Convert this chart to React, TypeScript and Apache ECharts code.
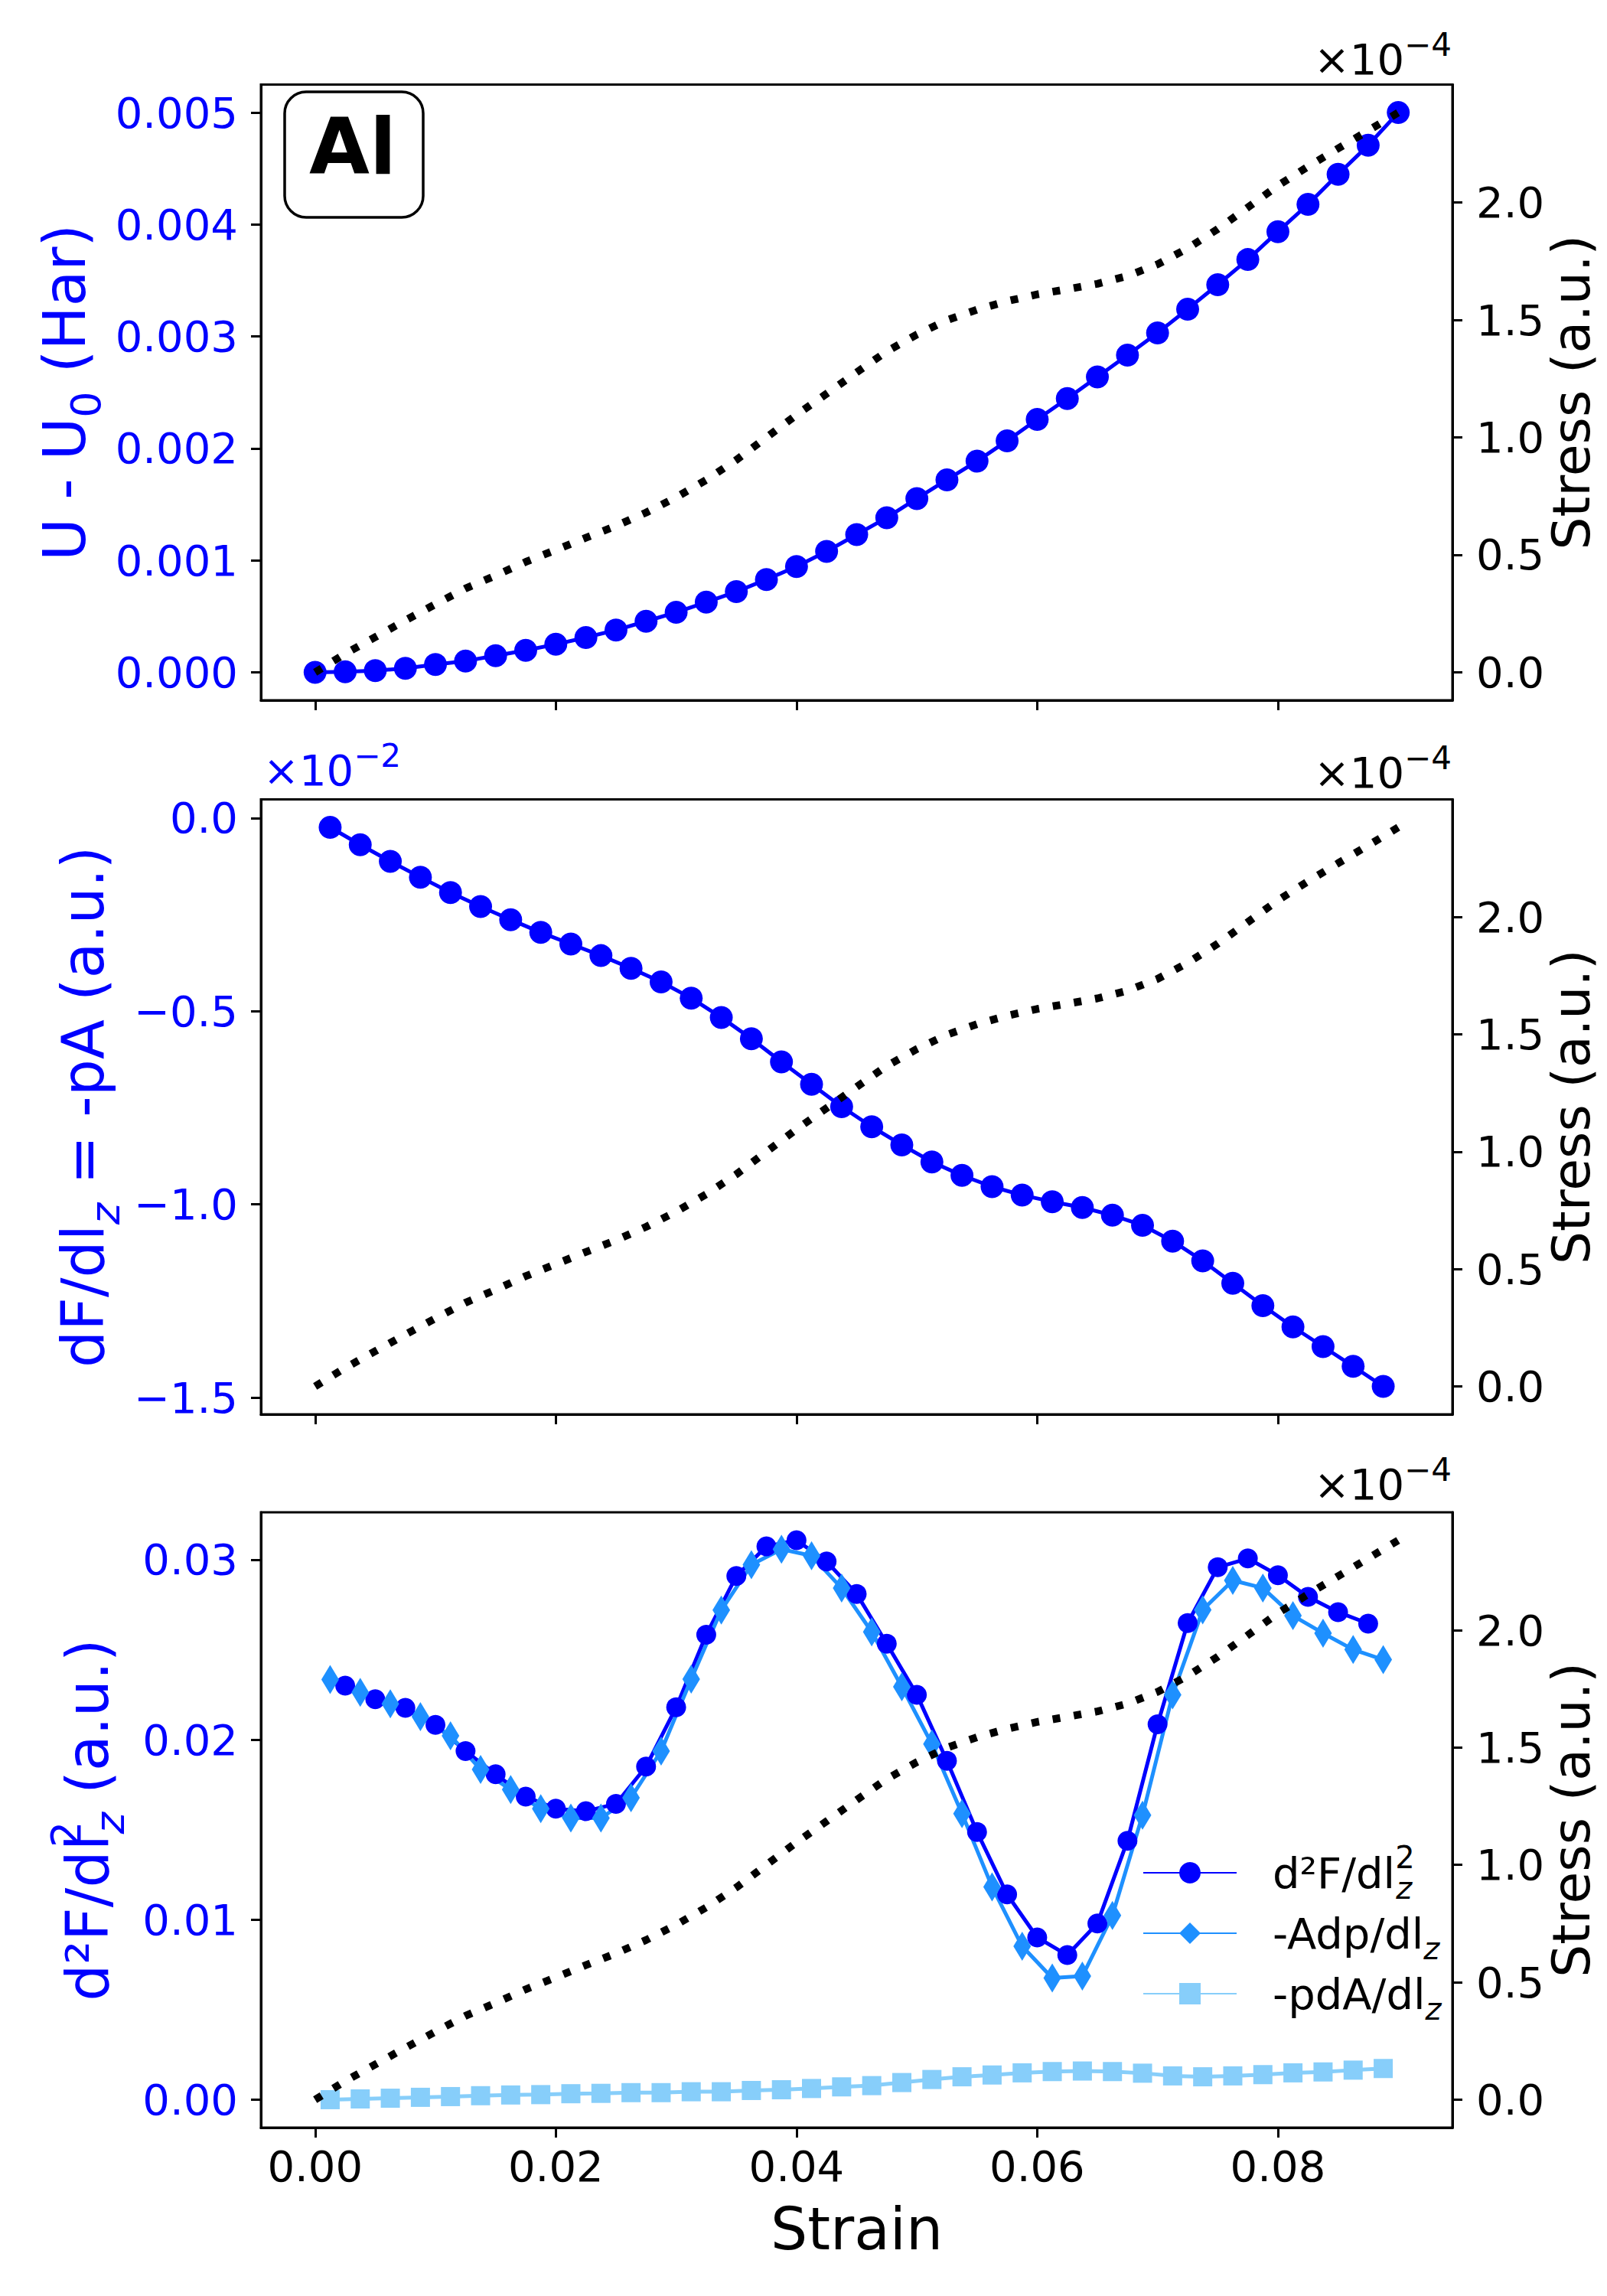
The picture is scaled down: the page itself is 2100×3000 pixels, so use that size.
import React, { useEffect, useRef } from "react";
import * as echarts from "echarts";

// ---------- data ----------
const strainNode = [0, 0.0025, 0.005, 0.0075, 0.01, 0.0125, 0.015, 0.0175, 0.02, 0.0225, 0.025, 0.0275, 0.03, 0.0325, 0.035, 0.0375, 0.04, 0.0425, 0.045, 0.0475, 0.05, 0.0525, 0.055, 0.0575, 0.06, 0.0625, 0.065, 0.0675, 0.07, 0.0725, 0.075, 0.0775, 0.08, 0.0825, 0.085, 0.0875, 0.09];
const strainMid = [0.00125, 0.00375, 0.00625, 0.00875, 0.01125, 0.01375, 0.01625, 0.01875, 0.02125, 0.02375, 0.02625, 0.02875, 0.03125, 0.03375, 0.03625, 0.03875, 0.04125, 0.04375, 0.04625, 0.04875, 0.05125, 0.05375, 0.05625, 0.05875, 0.06125, 0.06375, 0.06625, 0.06875, 0.07125, 0.07375, 0.07625, 0.07875, 0.08125, 0.08375, 0.08625, 0.08875];
const strainInner = strainNode.slice(1, 36);

// Stress (x1e-4, a.u.)
const stress = [0, 0.079, 0.150, 0.221, 0.290, 0.357, 0.412, 0.470, 0.521, 0.573, 0.623, 0.680, 0.745, 0.819, 0.904, 1.000, 1.096, 1.186, 1.277, 1.366, 1.438, 1.499, 1.544, 1.580, 1.609, 1.631, 1.654, 1.687, 1.737, 1.805, 1.887, 1.979, 2.072, 2.153, 2.230, 2.306, 2.383];
// U - U0 (Har)
const energy = [0, 0.000004, 0.0000145, 0.000036, 0.000069, 0.000101, 0.000148, 0.000196, 0.00025, 0.000311, 0.000377, 0.000456, 0.000536, 0.000626, 0.00072, 0.000829, 0.000945, 0.00108, 0.00123, 0.001381, 0.001552, 0.001719, 0.001886, 0.002068, 0.002259, 0.002445, 0.002639, 0.002833, 0.003031, 0.003244, 0.003462, 0.003687, 0.003936, 0.00418, 0.004448, 0.004708, 0.005];
// dF/dl_z (x1e-2, a.u.)
const dFdl = [-0.024, -0.069, -0.112, -0.153, -0.193, -0.229, -0.263, -0.296, -0.326, -0.356, -0.389, -0.424, -0.466, -0.516, -0.571, -0.631, -0.689, -0.747, -0.799, -0.846, -0.890, -0.925, -0.954, -0.976, -0.993, -1.008, -1.028, -1.054, -1.095, -1.146, -1.204, -1.262, -1.317, -1.368, -1.419, -1.471];
// d2F/dl_z^2
const d2F = [0.02301, 0.02225, 0.02177, 0.02083, 0.01937, 0.01808, 0.01684, 0.01617, 0.01603, 0.01644, 0.01851, 0.0218, 0.02583, 0.02909, 0.03074, 0.03108, 0.0299, 0.0281, 0.02533, 0.0225, 0.01883, 0.01488, 0.01141, 0.00902, 0.00804, 0.0098, 0.01439, 0.02086, 0.02648, 0.02958, 0.03007, 0.02914, 0.02794, 0.02709, 0.02645];
// -A dp/dl_z
const adp = [0.02335, 0.02263, 0.022, 0.02128, 0.02022, 0.01835, 0.01723, 0.01617, 0.01565, 0.01565, 0.01678, 0.01937, 0.02337, 0.0272, 0.02972, 0.03058, 0.03022, 0.02842, 0.02599, 0.02294, 0.01976, 0.0159, 0.01183, 0.00853, 0.00677, 0.00687, 0.01024, 0.01581, 0.0225, 0.02721, 0.02885, 0.02843, 0.02689, 0.02592, 0.02501, 0.02445];
// -p dA/dl_z
const pda = [0.00001, 0.00005, 0.00009, 0.00014, 0.00018, 0.00023, 0.00027, 0.00029, 0.00034, 0.00036, 0.0004, 0.0004, 0.00045, 0.00045, 0.00052, 0.00056, 0.00063, 0.00072, 0.00079, 0.00096, 0.00113, 0.00128, 0.00138, 0.0015, 0.00157, 0.0016, 0.00157, 0.00148, 0.00133, 0.00128, 0.00133, 0.0014, 0.0015, 0.00155, 0.00165, 0.00174];

// tick labels
const xTicks = [0, 0.02, 0.04, 0.06, 0.08];
const yTicks1 = [0, 0.001, 0.002, 0.003, 0.004, 0.005];
const yTicks2 = [0, -0.5, -1.0, -1.5];
const yTicks3 = [0, 0.01, 0.02, 0.03];
const stressTicks = [0, 0.5, 1.0, 1.5, 2.0];

// ---------- style ----------
const FONT = "DejaVu Sans";
const BLUE = "#0000ff";
const MID = "#1e90ff";
const LIGHT = "#87cefa";
const GRID_LEFT = 341;
const GRID_WIDTH = 1557;
const PANELS = [
  { top: 110.5, bottom: 915 },
  { top: 1044.5, bottom: 1848 },
  { top: 1976, bottom: 2780 },
];
const LINE_W = 5;

function padRange(vals: number[]): [number, number] {
  const mn = Math.min(...vals);
  const mx = Math.max(...vals);
  const r = mx - mn;
  return [mn - 0.05 * r, mx + 0.05 * r];
}

const zip = (xs: number[], ys: number[]) => ys.map((y, i) => [xs[i], y]);
const minus = (s: string) => s.replace("-", "\u2212");

function buildOption() {
  const xr = padRange([0, 0.09]);
  const y1 = padRange(energy);
  const y2 = padRange(dFdl);
  const y3 = padRange([...d2F, ...adp, ...pda]);
  const ys = padRange(stress);

  const titleRich = {
    m: { fontSize: 76, lineHeight: 111, verticalAlign: "middle", color: BLUE, fontFamily: FONT },
    s: { fontSize: 54, lineHeight: 70, verticalAlign: "bottom", color: BLUE, fontFamily: FONT },
    z: { fontSize: 54, lineHeight: 70, verticalAlign: "bottom", color: BLUE, fontFamily: FONT, fontStyle: "italic" },
    z2: { fontSize: 54, lineHeight: 54, verticalAlign: "bottom", color: BLUE, fontFamily: FONT, fontStyle: "italic" },
    p: { fontSize: 54, lineHeight: 72, verticalAlign: "top", color: BLUE, fontFamily: FONT, width: 1 },
  };

  const leftNames = [
    "{m|U - U}{s|0}{m| (Har)}",
    "{m|dF/dl}{z|z}{m| = -pA (a.u.)}",
    "{m|d\u00b2F/dl}{p|2}{z2|z}{m| (a.u.)}",
  ];
  const leftGaps = [198, 171, 171];
  const leftRanges = [y1, y2, y3];
  const leftTicks = [yTicks1, yTicks2, yTicks3];
  const leftFmt = [
    (v: number) => v.toFixed(3),
    (v: number) => minus(v.toFixed(1)),
    (v: number) => v.toFixed(2),
  ];

  const axisLine = { show: true, onZero: false, lineStyle: { color: "#000", width: 3 } };
  const tickStyle = { color: "#000", width: 3 };

  const grid = PANELS.map((p) => ({
    left: GRID_LEFT,
    width: GRID_WIDTH,
    top: p.top,
    height: p.bottom - p.top,
    show: true,
    borderColor: "#000",
    borderWidth: 3,
    backgroundColor: "transparent",
    containLabel: false,
    outerBoundsMode: "none",
  }));

  const xAxis = PANELS.map((_, i) => ({
    type: "value",
    gridIndex: i,
    min: xr[0],
    max: xr[1],
    axisLine,
    axisTick: { show: true, length: 13, lineStyle: tickStyle, customValues: xTicks },
    axisLabel: {
      show: i === 2,
      customValues: xTicks,
      formatter: (v: number) => v.toFixed(2),
      fontSize: 56,
      fontFamily: FONT,
      color: "#000",
      margin: 22,
    },
    splitLine: { show: false },
    name: i === 2 ? "Strain" : "",
    nameLocation: "middle",
    nameGap: 94,
    nameTextStyle: { fontSize: 76, fontFamily: FONT, color: "#000" },
  }));

  const yAxis: any[] = [];
  PANELS.forEach((_, i) => {
    yAxis.push({
      type: "value",
      gridIndex: i,
      position: "left",
      min: leftRanges[i][0],
      max: leftRanges[i][1],
      axisLine,
      axisTick: { show: true, length: 13, lineStyle: tickStyle, customValues: leftTicks[i] },
      axisLabel: {
        customValues: leftTicks[i],
        formatter: leftFmt[i],
        fontSize: 56,
        fontFamily: FONT,
        color: BLUE,
        margin: 30,
      },
      splitLine: { show: false },
      name: leftNames[i],
      nameLocation: "middle",
      nameRotate: 90,
      nameGap: leftGaps[i],
      nameTextStyle: { fontSize: 76, fontFamily: FONT, color: BLUE, rich: titleRich },
    });
    yAxis.push({
      type: "value",
      gridIndex: i,
      position: "right",
      min: ys[0],
      max: ys[1],
      axisLine,
      axisTick: { show: true, length: 13, lineStyle: tickStyle, customValues: stressTicks },
      axisLabel: {
        customValues: stressTicks,
        formatter: (v: number) => v.toFixed(1),
        fontSize: 56,
        fontFamily: FONT,
        color: "#000",
        margin: 31,
      },
      splitLine: { show: false },
      name: "Stress (a.u.)",
      nameLocation: "middle",
      nameRotate: 90,
      nameGap: 121,
      nameMoveOverlap: false,
      nameTextStyle: { fontSize: 68, fontFamily: FONT, color: "#000", lineHeight: 68 },
    });
  });

  const stressSeries = (i: number) => ({
    type: "line",
    name: "stress" + i,
    xAxisIndex: i,
    yAxisIndex: 2 * i + 1,
    data: zip(strainNode, stress),
    showSymbol: false,
    symbol: "none",
    lineStyle: { color: "#000", width: 10, type: [10, 18], cap: "butt" },
    silent: true,
    z: 5,
  });

  const series = [
    {
      type: "line",
      name: "U",
      xAxisIndex: 0,
      yAxisIndex: 0,
      data: zip(strainNode, energy),
      symbol: "circle",
      symbolSize: 30,
      itemStyle: { color: BLUE },
      lineStyle: { color: BLUE, width: LINE_W },
      silent: true,
      z: 3,
    },
    stressSeries(0),
    {
      type: "line",
      name: "dF",
      xAxisIndex: 1,
      yAxisIndex: 2,
      data: zip(strainMid, dFdl),
      symbol: "circle",
      symbolSize: 30,
      itemStyle: { color: BLUE },
      lineStyle: { color: BLUE, width: LINE_W },
      silent: true,
      z: 3,
    },
    stressSeries(1),
    {
      type: "line",
      name: "d2F",
      xAxisIndex: 2,
      yAxisIndex: 4,
      data: zip(strainInner, d2F),
      symbol: "circle",
      symbolSize: 26,
      itemStyle: { color: BLUE },
      lineStyle: { color: BLUE, width: LINE_W },
      silent: true,
      z: 3,
    },
    {
      type: "line",
      name: "Adp",
      xAxisIndex: 2,
      yAxisIndex: 4,
      data: zip(strainMid, adp),
      symbol: "diamond",
      symbolSize: [23, 38],
      itemStyle: { color: MID },
      lineStyle: { color: MID, width: LINE_W },
      silent: true,
      z: 3,
    },
    {
      type: "line",
      name: "pdA",
      xAxisIndex: 2,
      yAxisIndex: 4,
      data: zip(strainMid, pda),
      symbol: "rect",
      symbolSize: 25,
      itemStyle: { color: LIGHT },
      lineStyle: { color: LIGHT, width: LINE_W },
      silent: true,
      z: 3,
    },
    stressSeries(2),
  ];

  const legendText: Record<string, string> = {
    d2F: "{m|d\u00b2F/dl}{p|2}{z2|z}",
    Adp: "{m|-Adp/dl}{z|z}",
    pdA: "{m|-pdA/dl}{z|z}",
  };

  const legend = {
    data: ["d2F", "Adp", "pdA"],
    orient: "vertical",
    left: 1493,
    top: 2407,
    padding: 0,
    itemWidth: 122,
    itemHeight: 35,
    itemGap: 11,
    align: "left",
    selectedMode: false,
    formatter: (n: string) => legendText[n],
    textStyle: {
      fontSize: 56,
      fontFamily: FONT,
      color: "#000",
      padding: [0, 0, 0, 42],
      rich: {
        m: { fontSize: 56, lineHeight: 80, verticalAlign: "middle", color: "#000", fontFamily: FONT },
        z: { fontSize: 40, lineHeight: 48, verticalAlign: "bottom", color: "#000", fontFamily: FONT, fontStyle: "italic" },
        z2: { fontSize: 40, lineHeight: 40, verticalAlign: "bottom", color: "#000", fontFamily: FONT, fontStyle: "italic" },
        p: { fontSize: 40, lineHeight: 56, verticalAlign: "top", color: "#000", fontFamily: FONT, width: 1 },
      },
    },
  };

  const offsetRich = (fill: string) => ({
    a: { fontSize: 56, lineHeight: 80, verticalAlign: "middle", fill, fontFamily: FONT },
    s: { fontSize: 42, lineHeight: 57, verticalAlign: "top", fill, fontFamily: FONT },
  });

  const offsetRight = [96.8, 1029, 1959].map((base) => ({
    type: "text",
    x: 1897,
    y: base - 19.4,
    silent: true,
    style: {
      text: "{a|\u00d710}{s|\u22124}",
      rich: offsetRich("#000"),
      align: "right",
      verticalAlign: "middle",
      fill: "#000",
      fontFamily: FONT,
      fontSize: 56,
    },
  }));

  const graphic = [
    {
      type: "rect",
      shape: { x: 372, y: 120, width: 181, height: 164, r: 28 },
      style: { fill: "#fff", stroke: "#000", lineWidth: 3.5 },
      silent: true,
      z: 100,
    },
    {
      type: "text",
      x: 461,
      y: 191,
      silent: true,
      z: 101,
      style: {
        text: "Al",
        fontSize: 102,
        fontWeight: "bold",
        fontFamily: FONT,
        fill: "#000",
        align: "center",
        verticalAlign: "middle",
      },
    },
    ...offsetRight,
    {
      type: "text",
      x: 344,
      y: 1026 - 19.4,
      silent: true,
      style: {
        text: "{a|\u00d710}{s|\u22122}",
        rich: offsetRich(BLUE),
        align: "left",
        verticalAlign: "middle",
        fill: BLUE,
        fontFamily: FONT,
        fontSize: 56,
      },
    },
  ];

  return {
    animation: false,
    backgroundColor: "#ffffff",
    textStyle: { fontFamily: FONT },
    grid,
    xAxis,
    yAxis,
    series,
    legend,
    graphic,
  };
}

export default function App() {
  const ref = useRef<HTMLDivElement>(null);
  useEffect(() => {
    if (!ref.current) return;
    const chart = echarts.init(ref.current, null, { renderer: "svg" });
    chart.setOption(buildOption() as any);
    return () => chart.dispose();
  }, []);
  return (
    <div
      ref={ref}
      style={{ position: "absolute", left: 0, top: 0, width: 2100, height: 3000, background: "#fff" }}
    />
  );
}
